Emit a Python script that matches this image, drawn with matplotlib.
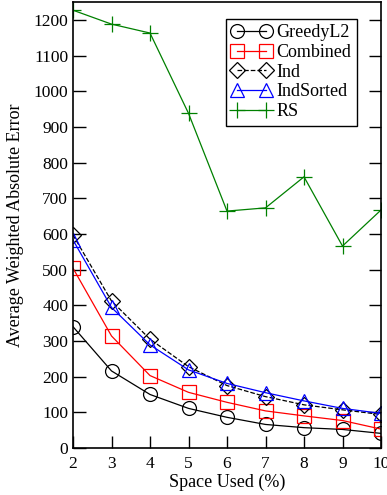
import numpy as np
import matplotlib
matplotlib.use("Agg")
import matplotlib.pyplot as plt

plt.rcParams["font.family"] = ["Liberation Serif", "DejaVu Serif"]
plt.rcParams["mathtext.fontset"] = "stix"

# -----------------
# Data
space = [2, 3, 4, 5, 6, 7, 8, 9, 10]
greedy = [340, 216, 150, 111, 86, 66, 57, 52, 41]
combined = [504, 314, 203, 156, 128, 104, 90, 77, 53]
ind = [597, 412, 305, 228, 175, 144, 121, 107, 94]
ind_sorted = [583, 394, 289, 219, 181, 155, 132, 111, 97]
rs = [1227, 1188, 1163, 938, 664, 673, 760, 566, 667]

# -----------------
# Plot
fig = plt.figure(figsize=(3.87, 4.95), dpi=100)
ax = fig.add_axes([73/387, 1 - 448/495, 308/387, 446/495])

ms = 10
ax.plot(space, greedy, "k-", lw=0.9, marker="o", ms=ms, mfc="none", mew=0.9, label="GreedyL2")
ax.plot(space, combined, "-", color="red", lw=0.9, marker="s", ms=ms, mfc="none", mew=0.9, label="Combined")
ax.plot(space, ind, "k--", lw=0.9, marker="D", ms=8, mfc="none", mew=0.9, label="Ind")
ax.plot(space, ind_sorted, "-", color="blue", lw=0.9, marker="^", ms=ms, mfc="none", mew=0.9, label="IndSorted")
ax.plot(space, rs, "-", color="green", lw=0.9, marker="+", ms=12, mew=0.9, label="RS")

ax.set_xlim(2, 10)
ax.set_ylim(0, 1250)
ax.set_xticks(space)
ax.set_yticks(np.arange(0, 1201, 100))
ax.tick_params(direction="in", length=9, width=1, labelsize=12.5, right=True, top=False)
ax.tick_params(axis="x", pad=6)
for s in ax.spines.values():
    s.set_linewidth(1.2)

ax.set_xlabel("Space Used (%)", fontsize=13, labelpad=1)
ax.set_ylabel("Average Weighted Absolute Error", fontsize=13, labelpad=7)

leg = ax.legend(loc="upper right", bbox_to_anchor=(0.922, 0.962), borderaxespad=0,
                numpoints=2, fontsize=13, fancybox=False, edgecolor="black", framealpha=1,
                handlelength=2.2, handletextpad=0.3, borderpad=0.3, labelspacing=0.15)
leg.get_frame().set_linewidth(1.0)

plt.savefig("out.png", dpi=100)
